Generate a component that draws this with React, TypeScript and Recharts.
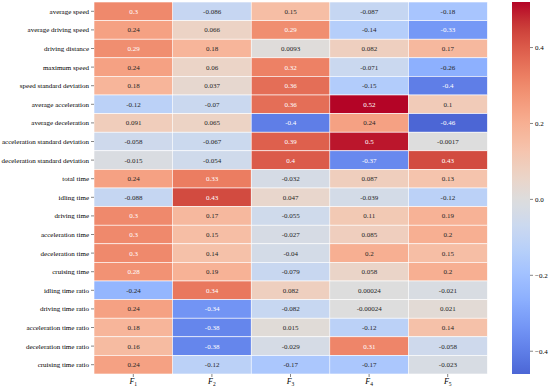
import { BarChart, Bar, XAxis, YAxis } from "recharts";

const ROW_NAMES = [
  "average speed",
  "average driving speed",
  "driving distance",
  "maximum speed",
  "speed standard deviation",
  "average acceleration",
  "average deceleration",
  "acceleration standard deviation",
  "deceleration standard deviation",
  "total time",
  "idling time",
  "driving time",
  "acceleration time",
  "deceleration time",
  "cruising time",
  "idling time ratio",
  "driving time ratio",
  "acceleration time ratio",
  "deceleration time ratio",
  "cruising time ratio",
];

const COLUMNS = ["1", "2", "3", "4", "5"];

const F1 = [0.3, 0.24, 0.29, 0.24, 0.18, -0.12, 0.091, -0.058, -0.015, 0.24, -0.088, 0.3, 0.3, 0.3, 0.28, -0.24, 0.24, 0.18, 0.16, 0.24];
const F2 = [-0.086, 0.066, 0.18, 0.06, 0.037, -0.07, 0.065, -0.067, -0.054, 0.33, 0.43, 0.17, 0.15, 0.14, 0.19, 0.34, -0.34, -0.38, -0.38, -0.12];
const F3 = [0.15, 0.29, 0.0093, 0.32, 0.36, 0.36, -0.4, 0.39, 0.4, -0.032, 0.047, -0.055, -0.027, -0.04, -0.079, 0.082, -0.082, 0.015, -0.029, -0.17];
const F4 = [-0.087, -0.14, 0.082, -0.071, -0.15, 0.52, 0.24, 0.5, -0.37, 0.087, -0.039, 0.11, 0.085, 0.2, 0.058, 0.00024, -0.00024, -0.12, 0.31, -0.17];
const F5 = [-0.18, -0.33, 0.17, -0.26, -0.4, 0.1, -0.46, -0.0017, 0.43, 0.13, -0.12, 0.19, 0.2, 0.15, 0.2, -0.021, 0.021, 0.14, -0.058, -0.023];

const CBAR_TICKS = [-0.4, -0.2, 0, 0.2, 0.4];

const MATRIX = [F1, F2, F3, F4, F5];
const ALL = MATRIX.flat();
const VMIN = Math.min(...ALL);
const VMAX = Math.max(...ALL);
const HALF = Math.max(Math.abs(VMIN), Math.abs(VMAX)); // centered at 0

const FONT = '"Liberation Serif", "Times New Roman", serif';

// matplotlib coolwarm, sampled
const COOLWARM = [
  [59, 76, 192], [77, 104, 215], [98, 130, 234], [119, 154, 247],
  [141, 176, 254], [163, 194, 255], [184, 208, 249], [204, 217, 238],
  [221, 221, 221], [236, 211, 197], [245, 196, 173], [247, 177, 148],
  [244, 154, 123], [236, 127, 99], [222, 96, 77], [203, 62, 56],
  [180, 4, 38],
];

function rgbFor(v: number) {
  const t = Math.min(1, Math.max(0, (v + HALF) / (2 * HALF)));
  const p = t * (COOLWARM.length - 1);
  const i = Math.min(COOLWARM.length - 2, Math.floor(p));
  const f = p - i;
  return COOLWARM[i].map((c, k) => c + (COOLWARM[i + 1][k] - c) * f);
}

function colorFor(v: number) {
  const [r, g, b] = rgbFor(v);
  return `rgb(${Math.round(r)},${Math.round(g)},${Math.round(b)})`;
}

function textColorFor(v: number) {
  const lin = rgbFor(v).map((c) => {
    const s = c / 255;
    return s <= 0.03928 ? s / 12.92 : Math.pow((s + 0.055) / 1.055, 2.4);
  });
  const lum = 0.2126 * lin[0] + 0.7152 * lin[1] + 0.0722 * lin[2];
  return lum < 0.408 ? "#fff" : "#262626";
}

const data = COLUMNS.map((name) => {
  const row: Record<string, string | number> = { name };
  ROW_NAMES.forEach((_, ri) => (row[`r${ri}`] = 1));
  return row;
});

const cbData = [{ name: "cb", range: [VMIN, VMAX] }];

function FTick(props: any) {
  const { x, y, payload } = props;
  return (
    <text x={x} y={y + 5} textAnchor="middle" fontFamily={FONT} fontSize={8} fill="#000">
      <tspan fontStyle="italic">F</tspan>
      <tspan fontSize={5.5} dy={2}>{payload.value}</tspan>
    </text>
  );
}

function RowTick(props: any) {
  const { x, y, payload } = props;
  return (
    <text x={x} y={y} dy="0.35em" textAnchor="end" fontFamily={FONT} fontSize={7} fill="#000">
      {ROW_NAMES[Math.floor(payload.value)]}
    </text>
  );
}

function makeCell(ri: number) {
  return (props: any) => {
    const { x, y, width, height, index } = props;
    const v = MATRIX[index][ri];
    const top = Math.min(y, y + height);
    const h = Math.abs(height);
    return (
      <g>
        <rect x={x} y={top} width={width} height={h} fill={colorFor(v)} stroke="#fff" strokeWidth={0.6} />
        <text
          x={x + width / 2}
          y={top + h / 2}
          dy="0.35em"
          textAnchor="middle"
          fontFamily={FONT}
          fontSize={7}
          fill={textColorFor(v)}
        >
          {String(v)}
        </text>
      </g>
    );
  };
}

export default function App() {
  const stops = Array.from({ length: 41 }, (_, k) => {
    const v = VMAX - (k / 40) * (VMAX - VMIN);
    return <stop key={k} offset={`${(k / 40) * 100}%`} stopColor={colorFor(v)} />;
  });

  return (
    <div style={{ position: "absolute", left: 0, top: 0, width: 550, height: 388, background: "#fff" }}>
      <div style={{ position: "absolute", left: 0, top: 0 }}>
        <BarChart
          width={490}
          height={388}
          data={data}
          barCategoryGap={0}
          margin={{ top: 2, right: 3, left: 0, bottom: 0 }}
        >
          <XAxis
            dataKey="name"
            type="category"
            height={14}
            interval={0}
            axisLine={false}
            tickSize={3}
            tickLine={{ stroke: "#333", strokeWidth: 0.6 }}
            tick={<FTick />}
          />
          <YAxis
            type="number"
            domain={[0, ROW_NAMES.length]}
            reversed
            width={94}
            ticks={ROW_NAMES.map((_, i) => i + 0.5)}
            interval={0}
            axisLine={false}
            tickSize={3}
            tickLine={{ stroke: "#333", strokeWidth: 0.6 }}
            tick={<RowTick />}
          />
          {ROW_NAMES.map((_, ri) => (
            <Bar
              key={ri}
              dataKey={`r${ri}`}
              stackId="a"
              isAnimationActive={false}
              shape={makeCell(ri)}
            />
          ))}
        </BarChart>
      </div>
      <div style={{ position: "absolute", left: 500, top: 0 }}>
        <BarChart
          width={50}
          height={388}
          data={cbData}
          barCategoryGap={0}
          margin={{ top: 2, right: 0, left: 12, bottom: 14 }}
        >
          <defs>
            <linearGradient id="cbgrad" x1="0" y1="0" x2="0" y2="1">
              {stops}
            </linearGradient>
          </defs>
          <XAxis dataKey="name" hide />
          <YAxis
            type="number"
            orientation="right"
            domain={[VMIN, VMAX]}
            ticks={CBAR_TICKS}
            width={20}
            axisLine={false}
            tickSize={3}
            tickLine={{ stroke: "#333", strokeWidth: 0.6 }}
            tickFormatter={(v: number) => v.toFixed(1).replace("-", "\u2212")}
            tick={{ fontSize: 7, fontFamily: FONT, fill: "#000" }}
          />
          <Bar dataKey="range" fill="url(#cbgrad)" isAnimationActive={false} />
        </BarChart>
      </div>
    </div>
  );
}
